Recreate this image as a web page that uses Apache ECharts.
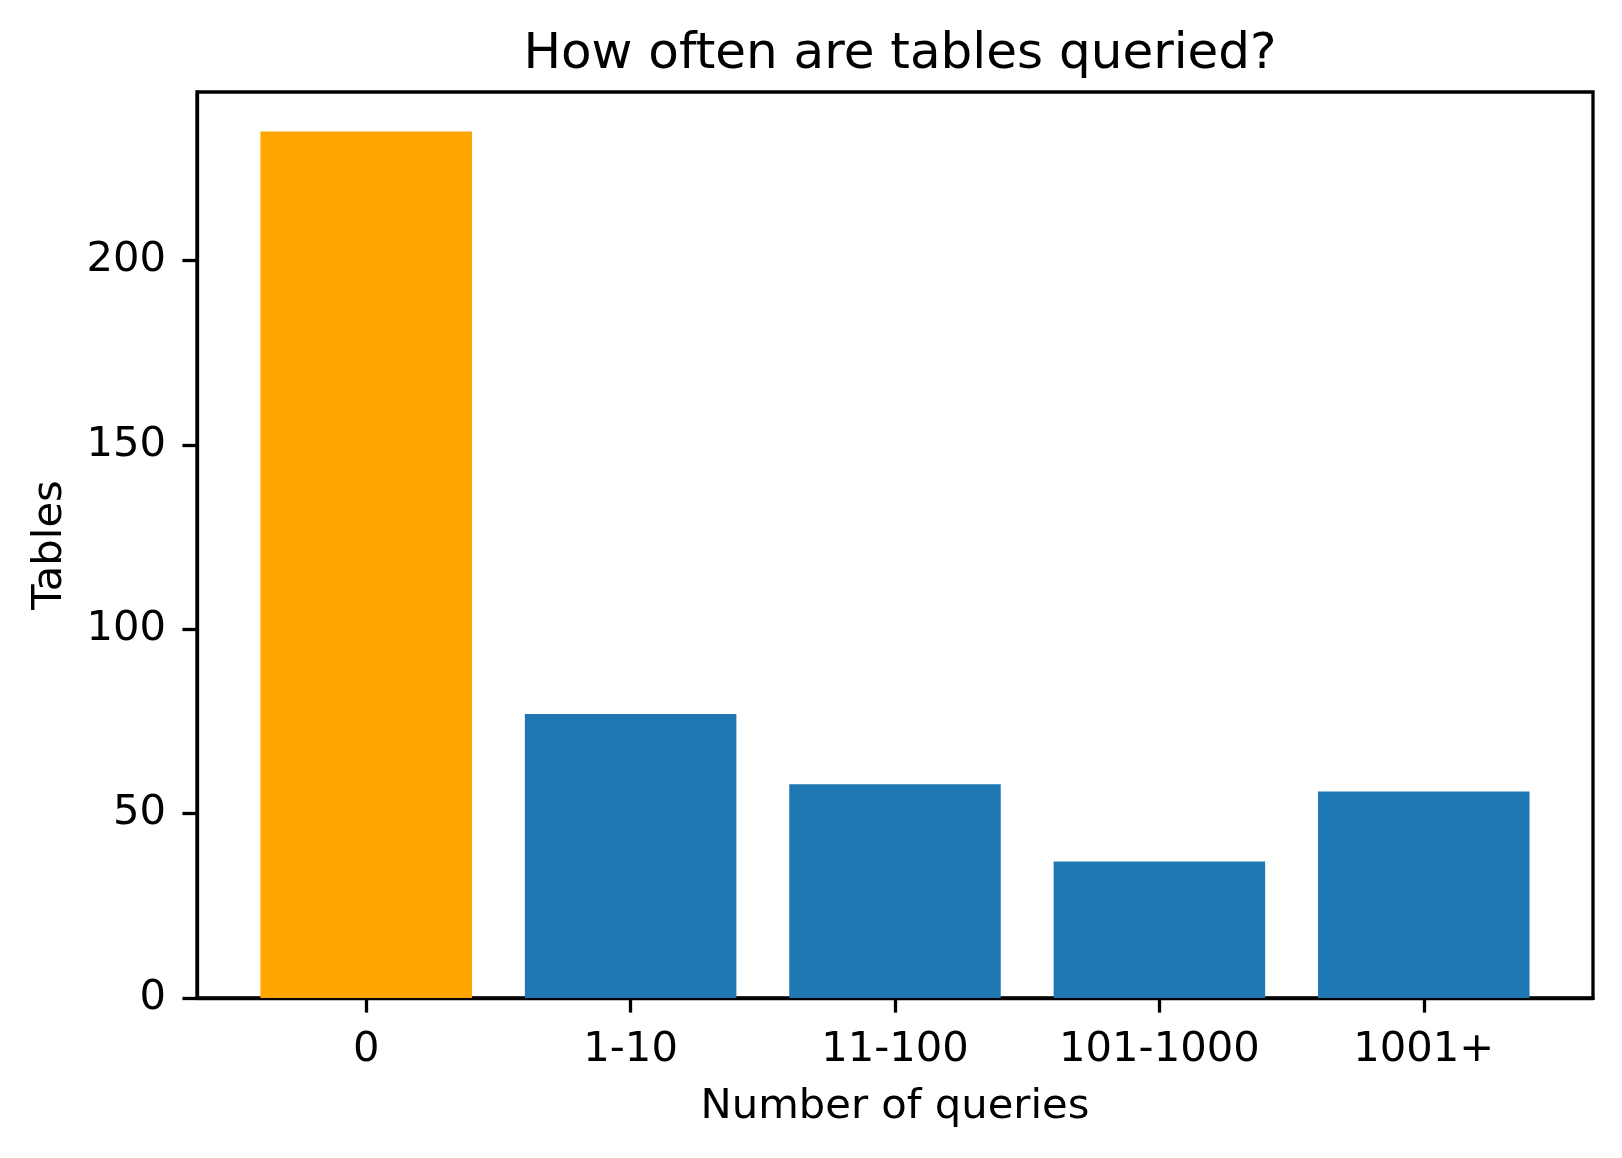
<!DOCTYPE html>
<html>
<head>
<meta charset="utf-8">
<script src="https://cdn.jsdelivr.net/npm/echarts@6/dist/echarts.min.js"></script>
<style>
html,body{margin:0;padding:0;background:#fff;}
#chart{width:1622px;height:1158px;}
</style>
</head>
<body>
<div id="chart"></div>
<script>
const categories = ['0', '1-10', '11-100', '101-1000', '1001+'];
const tableCounts = [235, 77, 58, 37, 56];
const barColors = ['#FFA500', '#1f77b4', '#1f77b4', '#1f77b4', '#1f77b4'];
const yTicks = [0, 50, 100, 150, 200];

const FONT = 'DejaVu Sans';
const gridLeft = 197, gridTop = 92, gridW = 1396, gridH = 906;
const xMin = -0.64, xMax = 4.64;
const barPx = 0.8 * gridW / (xMax - xMin);

const chart = echarts.init(document.getElementById('chart'), null, {renderer: 'canvas'});
chart.setOption({
  backgroundColor: '#fff',
  animation: false,
  title: {
    text: 'How often are tables queried?',
    left: gridLeft + gridW / 2,
    top: 25,
    textAlign: 'center',
    textStyle: {fontFamily: FONT, fontSize: 50, fontWeight: 'normal', color: '#000'}
  },
  grid: {
    left: gridLeft, top: gridTop, width: gridW, height: gridH,
    show: true, borderColor: '#000', borderWidth: 3.3, backgroundColor: 'transparent'
  },
  xAxis: {
    type: 'value',
    min: xMin, max: xMax,
    name: 'Number of queries',
    nameLocation: 'middle',
    nameGap: 88,
    nameTextStyle: {fontFamily: FONT, fontSize: 41.7, color: '#000'},
    axisLine: {show: true, onZero: false, lineStyle: {color: '#000', width: 3.3}},
    axisTick: {show: true, length: 14.6, lineStyle: {color: '#000', width: 3.3},
      customValues: categories.map((c, i) => i)},
    axisLabel: {
      fontFamily: FONT, fontSize: 41.7, color: '#000', margin: 31,
      customValues: categories.map((c, i) => i),
      formatter: v => categories[Math.round(v)] ?? ''
    },
    splitLine: {show: false}
  },
  yAxis: {
    type: 'value',
    min: 0, max: 245.7,
    name: 'Tables',
    nameLocation: 'middle',
    nameGap: 126,
    nameTextStyle: {fontFamily: FONT, fontSize: 41.7, color: '#000'},
    axisLine: {show: true, onZero: false, lineStyle: {color: '#000', width: 3.3}},
    axisTick: {show: true, length: 14.6, lineStyle: {color: '#000', width: 3.3},
      customValues: yTicks},
    axisLabel: {
      fontFamily: FONT, fontSize: 41.7, color: '#000', margin: 31,
      padding: [5, 0, 0, 0],
      customValues: yTicks
    },
    splitLine: {show: false}
  },
  series: [{
    type: 'bar',
    barWidth: barPx,
    data: tableCounts.map((v, i) => ({value: [i, v], itemStyle: {color: barColors[i]}}))
  }]
});
</script>
</body>
</html>
